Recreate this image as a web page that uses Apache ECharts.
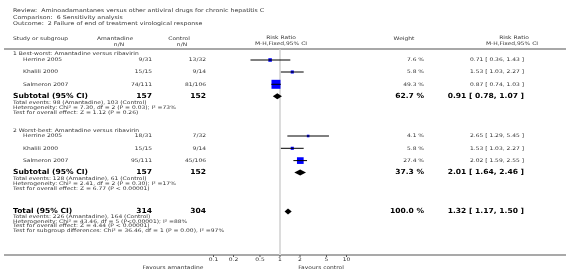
<!DOCTYPE html>
<html>
<head>
<meta charset="utf-8">
<script src="https://cdn.jsdelivr.net/npm/echarts@6.0.0/dist/echarts.min.js"></script>
<style>
  html, body { margin: 0; padding: 0; background: #fff; }
  #chart { width: 566px; height: 272px; }
</style>
</head>
<body>
<div id="chart"></div>
<script>
// ---- data ----
const titleLines = [
  'Review:  Aminoadamantanes versus other antiviral drugs for chronic hepatitis C',
  'Comparison:  6 Sensitivity analysis',
  'Outcome:  2 Failure of end of treatment virological response'
]
const groupNames = ['1 Best-worst: Amantadine versus ribavirin', '2 Worst-best: Amantadine versus ribavirin']
const studyNames = ['Herrine 2005', 'Khalili 2000', 'Salmeron 2007']
const amaEvents = [[9, 15, 74], [18, 15, 95]]
const amaTotal = [[31, 15, 111], [31, 15, 111]]
const ctrlEvents = [[13, 9, 81], [7, 9, 45]]
const ctrlTotal = [[32, 14, 106], [32, 14, 106]]
const weights = [[7.6, 5.8, 49.3], [4.1, 5.8, 27.4]]
const ratios = [[0.71, 1.53, 0.87], [2.65, 1.53, 2.02]]
const lowers = [[0.36, 1.03, 0.74], [1.29, 1.03, 1.59]]
const uppers = [[1.43, 2.27, 1.03], [5.45, 2.27, 2.55]]

const subAmaTotal = [157, 157]
const subCtrlTotal = [152, 152]
const subWeights = [62.7, 37.3]
const subRatios = [0.91, 2.01]
const subLowers = [0.78, 1.64]
const subUppers = [1.07, 2.46]
const subNotes = [
  ['Total events: 98 (Amantadine), 103 (Control)',
   'Heterogeneity: Chi\u00b2 = 7.30, df = 2 (P = 0.03); I\u00b2 =73%',
   'Test for overall effect: Z = 1.12 (P = 0.26)'],
  ['Total events: 128 (Amantadine), 61 (Control)',
   'Heterogeneity: Chi\u00b2 = 2.41, df = 2 (P = 0.30); I\u00b2 =17%',
   'Test for overall effect: Z = 6.77 (P < 0.00001)']
]

const totAma = 314
const totCtrl = 304
const totWeight = 100.0
const totRatio = [1.32, 1.17, 1.50]
const totNotes = [
  'Total events: 226 (Amantadine), 164 (Control)',
  'Heterogeneity: Chi\u00b2 = 43.46, df = 5 (P<0.00001); I\u00b2 =88%',
  'Test for overall effect: Z = 4.44 (P < 0.00001)',
  'Test for subgroup differences: Chi\u00b2 = 36.46, df = 1 (P = 0.00), I\u00b2 =97%'
]

const tickValues = [0.1, 0.2, 0.5, 1, 2, 5, 10]

// ---- layout ----
const FONT = 'DejaVu Sans'
// the source text is wide and short, so draw it small and stretch it sideways
const SMALL = { size: 4.9, sx: 1.22 }
const TITLE = { size: 5.2, sx: 1.21 }
const BOLD = { size: 7, sx: 1.08 }
const TXT = '#333'
const X_LEFT = 13, X_INDENT = 23, X_AMA = 152, X_CTRL = 206, X_W = 424, X_RR = 524
const groupY = [54, 131]
const rowY = [[60, 72, 84.3], [136, 148.3, 160.6]]
const subY = [96.3, 172.5]
const subNoteY = [103, 179]
const totY = 211.5
const totNoteY = 216.5
const NOTE_STEP = 4.8
const AXIS_Y = 255

const fmt = (r, l, u) => `${r.toFixed(2)} [ ${l.toFixed(2)}, ${u.toFixed(2)} ]`

const chart = echarts.init(document.getElementById('chart'))

function textEl (x, y, s, f, opts = {}) {
  return {
    type: 'text', x, y, scaleX: f.sx, silent: true,
    style: {
      text: s,
      font: `${opts.bold ? 'bold ' : ''}${f.size}px "${FONT}"`,
      fill: opts.color || TXT,
      align: opts.align || 'left', textAlign: opts.align || 'left',
      verticalAlign: 'middle', textVerticalAlign: 'middle'
    }
  }
}
const elements = []
const txt = (x, y, s, f, opts) => elements.push(textEl(x, y, s, f, opts))
const bold = (x, y, s, align) => txt(x, y, s, BOLD, { bold: true, color: '#000', align })

titleLines.forEach((s, i) => txt(X_LEFT, 11 + i * 6.5, s, TITLE))
txt(X_LEFT, 39, 'Study or subgroup', SMALL)
txt(115, 39, 'Amantadine', SMALL, { align: 'center' })
txt(119, 45, 'n/N', SMALL, { align: 'center' })
txt(179, 39, 'Control', SMALL, { align: 'center' })
txt(182, 45, 'n/N', SMALL, { align: 'center' })
txt(281, 38, 'Risk Ratio', SMALL, { align: 'center' })
txt(281, 44, 'M-H,Fixed,95% CI', SMALL, { align: 'center' })
txt(404, 39, 'Weight', SMALL, { align: 'center' })
txt(514, 38, 'Risk Ratio', SMALL, { align: 'center' })
txt(512, 44, 'M-H,Fixed,95% CI', SMALL, { align: 'center' })

groupNames.forEach((g, gi) => {
  txt(X_LEFT, groupY[gi], g, SMALL)
  studyNames.forEach((s, si) => {
    const y = rowY[gi][si]
    txt(X_INDENT, y, s, SMALL)
    txt(X_AMA, y, `${amaEvents[gi][si]}/${amaTotal[gi][si]}`, SMALL, { align: 'right' })
    txt(X_CTRL, y, `${ctrlEvents[gi][si]}/${ctrlTotal[gi][si]}`, SMALL, { align: 'right' })
    txt(X_W, y, `${weights[gi][si].toFixed(1)} %`, SMALL, { align: 'right' })
    txt(X_RR, y, fmt(ratios[gi][si], lowers[gi][si], uppers[gi][si]), SMALL, { align: 'right' })
  })
  const y = subY[gi]
  bold(X_LEFT, y, 'Subtotal (95% CI)')
  bold(X_AMA, y, String(subAmaTotal[gi]), 'right')
  bold(X_CTRL, y, String(subCtrlTotal[gi]), 'right')
  bold(X_W, y, `${subWeights[gi].toFixed(1)} %`, 'right')
  bold(X_RR, y, fmt(subRatios[gi], subLowers[gi], subUppers[gi]), 'right')
  subNotes[gi].forEach((n, ni) => txt(X_LEFT, subNoteY[gi] + ni * NOTE_STEP, n, SMALL))
})

bold(X_LEFT, totY, 'Total (95% CI)')
bold(X_AMA, totY, String(totAma), 'right')
bold(X_CTRL, totY, String(totCtrl), 'right')
bold(X_W, totY, `${totWeight.toFixed(1)} %`, 'right')
bold(X_RR, totY, fmt(totRatio[0], totRatio[1], totRatio[2]), 'right')
totNotes.forEach((n, ni) => txt(X_LEFT, totNoteY + ni * NOTE_STEP, n, SMALL))

txt(173, 268, 'Favours amantadine', SMALL, { align: 'center' })
txt(321, 268, 'Favours control', SMALL, { align: 'center' })

// rules
elements.push({ type: 'line', silent: true, shape: { x1: 4, y1: 49, x2: 566, y2: 49 }, style: { stroke: '#a8a8a8', lineWidth: 2 } })
elements.push({ type: 'line', silent: true, shape: { x1: 4, y1: AXIS_Y, x2: 566, y2: AXIS_Y }, style: { stroke: '#555', lineWidth: 1.2 } })

// flatten marks
const studyData = []
ratios.forEach((g, gi) => g.forEach((r, si) => {
  studyData.push([r, rowY[gi][si], lowers[gi][si], uppers[gi][si], weights[gi][si]])
}))
const diamondData = subRatios.map((r, i) => [r, subY[i], subLowers[i], subUppers[i]])
diamondData.push([totRatio[0], totY, totRatio[1], totRatio[2]])

const option = {
  animation: false,
  backgroundColor: '#fff',
  grid: { left: 147, width: 266, top: 49, height: AXIS_Y - 49 },
  xAxis: { type: 'log', logBase: 10, min: 0.01, max: 100, show: false },
  yAxis: { type: 'value', min: 49, max: AXIS_Y, inverse: true, show: false },
  graphic: { elements },
  series: [
    {
      // no-effect line and axis ticks
      type: 'custom',
      silent: true,
      clip: false,
      data: tickValues.map(v => [v]),
      renderItem: (params, api) => {
        const v = api.value(0)
        const p = api.coord([v, AXIS_Y])
        const label = textEl(p[0], p[1] + 5, String(v), SMALL, { align: 'center' })
        delete label.silent
        const children = [
          { type: 'line', shape: { x1: p[0], y1: p[1], x2: p[0], y2: p[1] + 2 }, style: { stroke: '#555', lineWidth: 1 } },
          label
        ]
        if (v === 1) {
          const top = api.coord([1, 49.5])
          children.unshift({ type: 'line', shape: { x1: p[0], y1: top[1], x2: p[0], y2: p[1] }, style: { stroke: '#dcdcdc', lineWidth: 2 } })
        }
        return { type: 'group', children }
      }
    },
    {
      type: 'custom',
      silent: true,
      clip: false,
      data: studyData,
      renderItem: (params, api) => {
        const y = api.value(1)
        const p = api.coord([api.value(0), y])
        const l = api.coord([api.value(2), y])
        const u = api.coord([api.value(3), y])
        const s = 1.28 * Math.sqrt(api.value(4))
        return {
          type: 'group',
          children: [
            { type: 'rect', shape: { x: p[0] - s / 2, y: p[1] - s / 2, width: s, height: s }, style: { fill: '#0000ff' } },
            { type: 'line', shape: { x1: l[0], y1: p[1], x2: u[0], y2: p[1] }, style: { stroke: '#000', lineWidth: 1 } }
          ]
        }
      }
    },
    {
      type: 'custom',
      silent: true,
      clip: false,
      data: diamondData,
      renderItem: (params, api) => {
        const y = api.value(1)
        const p = api.coord([api.value(0), y])
        const l = api.coord([api.value(2), y])
        const u = api.coord([api.value(3), y])
        return {
          type: 'polygon',
          shape: { points: [[l[0], p[1]], [p[0], p[1] - 3], [u[0], p[1]], [p[0], p[1] + 3]] },
          style: { fill: '#000' }
        }
      }
    }
  ]
}

chart.setOption(option)
</script>
</body>
</html>
